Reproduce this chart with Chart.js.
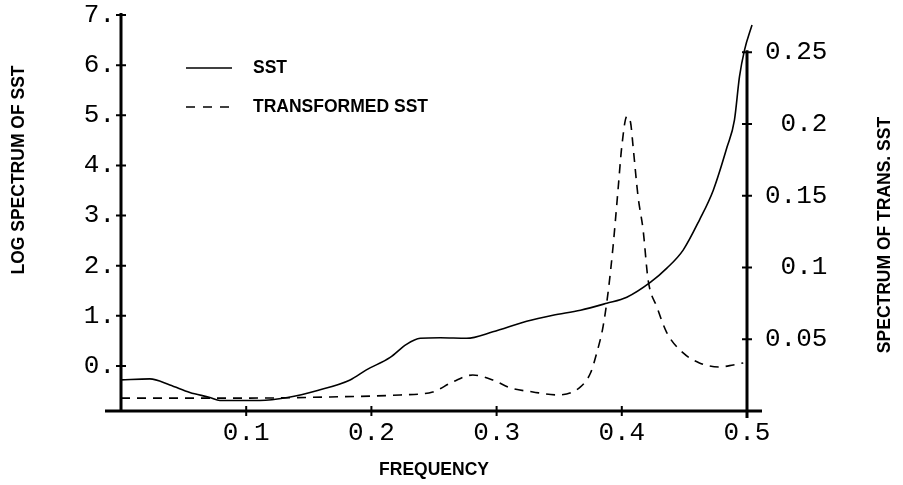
<!DOCTYPE html>
<html>
<head>
<meta charset="utf-8">
<script src="https://cdn.jsdelivr.net/npm/chart.js@4.4.1/dist/chart.umd.min.js"></script>
<style>
  html, body { margin: 0; padding: 0; background: #fff; }
  #wrap { width: 903px; height: 485px; position: relative; }
</style>
</head>
<body>
<div id="wrap"><canvas id="spectrum"></canvas></div>
<script>
// values
const sstFreq = [0, 0.023, 0.039, 0.055, 0.071, 0.079, 0.095, 0.111, 0.133, 0.157, 0.183, 0.196, 0.215, 0.228, 0.239, 0.255, 0.276, 0.297, 0.324, 0.345, 0.367, 0.388, 0.404, 0.423, 0.436, 0.449, 0.462, 0.473, 0.484, 0.490, 0.494, 0.498, 0.504];
const sstLog = [-0.28, -0.26, -0.38, -0.53, -0.63, -0.69, -0.69, -0.69, -0.63, -0.49, -0.28, -0.08, 0.17, 0.43, 0.55, 0.56, 0.55, 0.68, 0.89, 1.01, 1.11, 1.25, 1.37, 1.67, 1.95, 2.31, 2.91, 3.50, 4.36, 4.91, 5.77, 6.30, 6.80];

const transFreq = [0, 0.103, 0.167, 0.223, 0.249, 0.265, 0.281, 0.297, 0.311, 0.329, 0.348, 0.367, 0.375, 0.380, 0.385, 0.389, 0.393, 0.397, 0.400, 0.404, 0.407, 0.409, 0.413, 0.417, 0.421, 0.428, 0.436, 0.449, 0.462, 0.478, 0.489, 0.497];
const transSpec = [0.009, 0.009, 0.0098, 0.0112, 0.0133, 0.0203, 0.0251, 0.0216, 0.0161, 0.0133, 0.0112, 0.0168, 0.0265, 0.0405, 0.0587, 0.0824, 0.1145, 0.1543, 0.1844, 0.2053, 0.2011, 0.1844, 0.1494, 0.1264, 0.0915, 0.0726, 0.0545, 0.0405, 0.0335, 0.0307, 0.0321, 0.0335];

const freqTicks = [0.1, 0.2, 0.3, 0.4, 0.5];
const logTicks = [0, 1, 2, 3, 4, 5, 6, 7];
const specTicks = [0.05, 0.1, 0.15, 0.2, 0.25];

const seriesLabels = ['SST', 'TRANSFORMED SST'];
const xTitle = 'FREQUENCY';
const leftTitle = 'LOG SPECTRUM OF SST';
const rightTitle = 'SPECTRUM OF TRANS. SST';

const monoFont = { family: "'Liberation Mono', 'DejaVu Sans Mono', monospace", size: 26 };
const labelFont = "bold 17.5px 'Liberation Sans', Arial, sans-serif";

function toPoints(xs, ys) {
  return xs.map((x, i) => ({ x: x, y: ys[i] }));
}

// fixed box sizes so the plot area sits where the original one does
function fixSide(width) {
  return s => {
    s.width = width;
    s.paddingTop = 15;
    s.paddingBottom = 0;
  };
}

// axis lines with cross ticks, legend and the side titles
const plotFrame = {
  id: 'plotFrame',
  afterDatasetsDraw(chart) {
    const { ctx, chartArea: a, scales } = chart;
    const x = scales.x, y = scales.y, y2 = scales.y2;
    const base = y.getPixelForValue(y.min);

    ctx.save();
    ctx.strokeStyle = '#000';
    ctx.lineWidth = 3;
    ctx.beginPath();
    ctx.moveTo(a.left - 16, base); ctx.lineTo(a.right + 15, base);
    ctx.moveTo(a.left, base); ctx.lineTo(a.left, y.getPixelForValue(logTicks[logTicks.length - 1]) - 2);
    ctx.moveTo(a.right, base + 7); ctx.lineTo(a.right, y2.getPixelForValue(specTicks[specTicks.length - 1]) - 2);
    ctx.stroke();

    ctx.lineWidth = 2;
    ctx.beginPath();
    freqTicks.forEach(v => {
      const px = x.getPixelForValue(v);
      ctx.moveTo(px, base - 5); ctx.lineTo(px, base + 5);
    });
    logTicks.forEach(v => {
      const py = y.getPixelForValue(v);
      ctx.moveTo(a.left - 5, py); ctx.lineTo(a.left + 5, py);
    });
    specTicks.forEach(v => {
      const py = y2.getPixelForValue(v);
      ctx.moveTo(a.right - 5, py); ctx.lineTo(a.right + 5, py);
    });
    ctx.stroke();

    // legend
    const lx = a.left + 65, ly = a.top + 53;
    ctx.lineWidth = 1.5;
    ctx.beginPath();
    ctx.moveTo(lx, ly); ctx.lineTo(lx + 46, ly);
    ctx.stroke();
    ctx.setLineDash([9, 8]);
    ctx.beginPath();
    ctx.moveTo(lx, ly + 39); ctx.lineTo(lx + 44, ly + 39);
    ctx.stroke();
    ctx.setLineDash([]);

    ctx.fillStyle = '#000';
    ctx.font = labelFont;
    ctx.textBaseline = 'middle';
    ctx.textAlign = 'left';
    ctx.fillText(seriesLabels[0], lx + 67, ly);
    ctx.fillText(seriesLabels[1], lx + 67, ly + 39);

    // rotated axis titles
    ctx.textAlign = 'center';
    ctx.save();
    ctx.translate(19, a.top + 155);
    ctx.rotate(-Math.PI / 2);
    ctx.fillText(leftTitle, 0, 0);
    ctx.restore();
    ctx.save();
    ctx.translate(885, a.top + 220);
    ctx.rotate(-Math.PI / 2);
    ctx.fillText(rightTitle, 0, 0);
    ctx.restore();

    ctx.restore();
  }
};

new Chart(document.getElementById('spectrum'), {
  type: 'line',
  data: {
    datasets: [
      {
        label: seriesLabels[0],
        data: toPoints(sstFreq, sstLog),
        yAxisID: 'y',
        borderColor: '#000',
        borderWidth: 1.6,
        pointRadius: 0,
        cubicInterpolationMode: 'monotone',
        clip: false
      },
      {
        label: seriesLabels[1],
        data: toPoints(transFreq, transSpec),
        yAxisID: 'y2',
        borderColor: '#000',
        borderWidth: 1.6,
        borderDash: [9, 7],
        pointRadius: 0,
        cubicInterpolationMode: 'monotone'
      }
    ]
  },
  options: {
    responsive: true,
    maintainAspectRatio: false,
    animation: false,
    layout: { padding: 0 },
    plugins: {
      legend: { display: false },
      tooltip: { enabled: false }
    },
    scales: {
      x: {
        type: 'linear',
        position: 'bottom',
        min: 0,
        max: 0.5,
        grid: { display: false, drawTicks: false },
        border: { display: false },
        afterBuildTicks: s => { s.ticks = freqTicks.map(v => ({ value: v })); },
        afterFit: s => {
          s.height = 74;
          s.paddingLeft = 0;
          s.paddingRight = 0;
        },
        ticks: {
          color: '#000',
          font: monoFont,
          padding: 7,
          maxRotation: 0,
          autoSkip: false,
          callback: v => v.toFixed(1)
        },
        title: {
          display: true,
          text: xTitle,
          color: '#000',
          font: { family: "'Liberation Sans', Arial, sans-serif", size: 17.5, weight: 'bold' },
          padding: { top: 0, bottom: 4 }
        }
      },
      y: {
        type: 'linear',
        position: 'left',
        min: -0.9,
        max: 7,
        grid: { display: false, drawTicks: false },
        border: { display: false },
        afterBuildTicks: s => { s.ticks = logTicks.map(v => ({ value: v })); },
        afterFit: fixSide(121),
        ticks: {
          color: '#000',
          font: monoFont,
          padding: 6,
          callback: v => v + '.'
        }
      },
      y2: {
        type: 'linear',
        position: 'right',
        min: 0,
        max: 0.276,
        grid: { display: false, drawTicks: false },
        border: { display: false },
        afterBuildTicks: s => { s.ticks = specTicks.map(v => ({ value: v })); },
        afterFit: fixSide(156),
        ticks: {
          color: '#000',
          font: monoFont,
          padding: 18,
          // right-aligned in a monospace font
          callback: v => String(+v.toFixed(2)).padStart(4, ' ')
        }
      }
    }
  },
  plugins: [plotFrame]
});
</script>
</body>
</html>
